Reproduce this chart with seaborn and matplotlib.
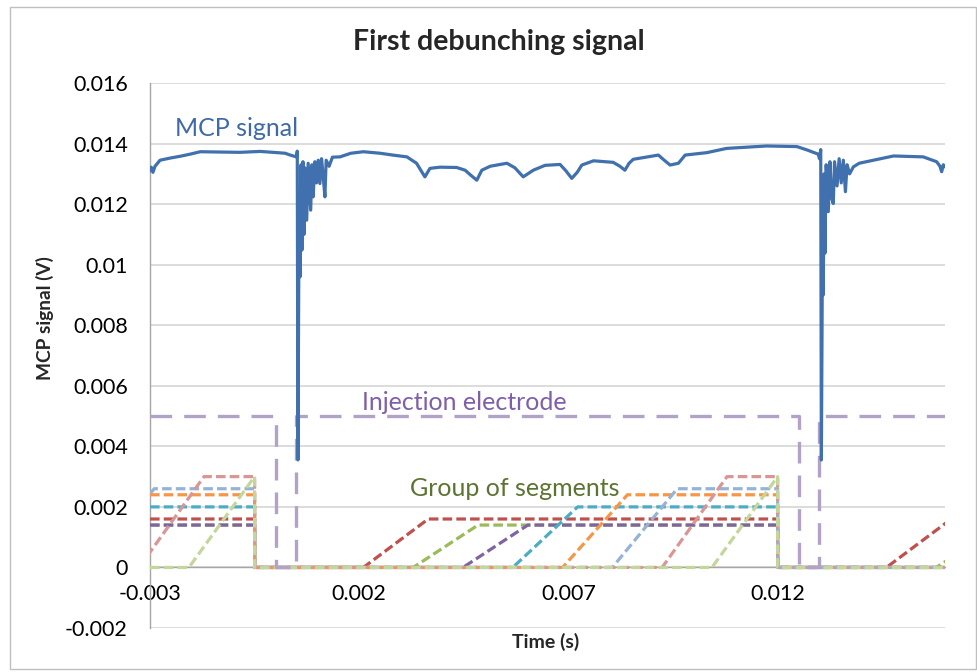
import numpy as np
import matplotlib
matplotlib.use("Agg")
import matplotlib.pyplot as plt
from matplotlib.patches import Rectangle
import seaborn as sns

# all traces in ms and mV, converted when drawn
mcp_t = [-3.00, -2.97, -2.93, -2.88, -2.76, -2.52, -2.28, -2.04, -1.80, -1.33,
         -0.85, -0.37, -0.06, 0.23, 0.35, 0.50, 0.52, 0.535, 0.55, 0.565,
         0.585, 0.61, 0.63, 0.655, 0.68, 0.70, 0.745, 0.78, 0.84, 0.87,
         0.90, 0.94, 0.98, 1.02, 1.06, 1.10, 1.14, 1.18, 1.21, 1.28,
         1.36, 1.54, 1.80, 2.10, 2.50, 2.80, 3.14, 3.37, 3.48, 3.57,
         3.69, 3.93, 4.33, 4.53, 4.67, 4.81, 4.93, 5.13, 5.53, 5.72,
         5.92, 6.16, 6.44, 6.80, 6.94, 7.08, 7.21, 7.32, 7.60, 8.07,
         8.23, 8.35, 8.45, 8.55, 9.15, 9.29, 9.43, 9.63, 9.79, 10.31,
         10.78, 11.74, 12.46, 12.70, 12.97, 13.00, 13.03, 13.045, 13.06, 13.075,
         13.09, 13.11, 13.13, 13.16, 13.21, 13.25, 13.29, 13.33, 13.36, 13.42,
         13.47, 13.52, 13.57, 13.62, 13.66, 13.72, 13.81, 13.95, 14.29, 14.77,
         15.48, 15.80, 15.88, 15.92, 15.96, 16.00]
mcp_v = [13.10, 13.22, 13.05, 13.25, 13.45, 13.52, 13.58, 13.65, 13.73, 13.72,
         13.71, 13.74, 13.71, 13.68, 13.62, 13.56, 13.75, 3.55, 8.00, 12.40,
         9.60, 13.30, 10.48, 13.40, 11.00, 13.20, 11.47, 13.35, 11.80, 13.30,
         12.24, 13.40, 12.70, 13.45, 12.68, 13.50, 12.90, 12.24, 13.45, 13.25,
         13.55, 13.56, 13.68, 13.73, 13.68, 13.62, 13.56, 13.35, 13.10, 12.90,
         13.18, 13.22, 13.21, 13.12, 12.95, 12.79, 13.12, 13.25, 13.35, 13.20,
         12.90, 13.12, 13.28, 13.31, 13.10, 12.85, 13.05, 13.29, 13.43, 13.38,
         13.25, 13.12, 13.35, 13.48, 13.62, 13.45, 13.29, 13.35, 13.62, 13.70,
         13.84, 13.92, 13.90, 13.79, 13.65, 13.50, 13.80, 3.55, 7.50, 12.00,
         9.00, 13.00, 10.38, 13.30, 11.75, 13.40, 12.20, 12.02, 13.40, 12.60,
         13.50, 12.70, 13.45, 12.41, 13.30, 13.00, 13.23, 13.35, 13.45, 13.59,
         13.56, 13.40, 13.25, 13.07, 13.30, 13.23]

inj_t = [-3.0, 0.0, 0.0, 0.5, 0.5, 12.5, 12.5, 13.0, 13.0, 16.0]
inj_v = [5.0, 5.0, 0.0, 0.0, 5.0, 5.0, 0.0, 0.0, 5.0, 5.0]

seg_red_t = [-3.0, -0.5, -0.5, 2.10, 3.65, 12.0, 12.0, 14.60, 16.15]
seg_red_v = [1.6, 1.6, 0.0, 0.0, 1.6, 1.6, 0.0, 0.0, 1.6]
seg_green_t = [-3.0, -0.5, -0.5, 3.29, 4.84, 12.0, 12.0, 15.79, 17.34]
seg_green_v = [1.4, 1.4, 0.0, 0.0, 1.4, 1.4, 0.0, 0.0, 1.4]
seg_purple_t = [-3.0, -0.5, -0.5, 4.48, 6.03, 12.0, 12.0, 16.0]
seg_purple_v = [1.4, 1.4, 0.0, 0.0, 1.4, 1.4, 0.0, 0.0]
seg_teal_t = [-3.0, -0.5, -0.5, 5.67, 7.22, 12.0, 12.0, 16.0]
seg_teal_v = [2.0, 2.0, 0.0, 0.0, 2.0, 2.0, 0.0, 0.0]
seg_orange_t = [-3.0, -0.5, -0.5, 6.86, 8.41, 12.0, 12.0, 16.0]
seg_orange_v = [2.4, 2.4, 0.0, 0.0, 2.4, 2.4, 0.0, 0.0]
seg_lblue_t = [-4.45, -2.90, -0.5, -0.5, 8.05, 9.60, 12.0, 12.0, 16.0]
seg_lblue_v = [0.0, 2.6, 2.6, 0.0, 0.0, 2.6, 2.6, 0.0, 0.0]
seg_pink_t = [-3.26, -1.71, -0.5, -0.5, 9.24, 10.79, 12.0, 12.0, 16.0]
seg_pink_v = [0.0, 3.0, 3.0, 0.0, 0.0, 3.0, 3.0, 0.0, 0.0]
seg_lgreen_t = [-3.0, -2.07, -0.5, -0.5, 10.43, 12.0, 12.0, 16.0]
seg_lgreen_v = [0.0, 0.0, 3.0, 0.0, 0.0, 3.0, 0.0, 0.0]

segments = [
    (seg_red_t, seg_red_v, "#C0504D"),
    (seg_green_t, seg_green_v, "#9BBB59"),
    (seg_purple_t, seg_purple_v, "#8064A2"),
    (seg_teal_t, seg_teal_v, "#4BACC6"),
    (seg_orange_t, seg_orange_v, "#F79646"),
    (seg_lblue_t, seg_lblue_v, "#95B3D7"),
    (seg_pink_t, seg_pink_v, "#D99694"),
    (seg_lgreen_t, seg_lgreen_v, "#C3D69B"),
]

x_ticks = [-0.003, 0.002, 0.007, 0.012]
x_labels = ["-0.003", "0.002", "0.007", "0.012"]
y_ticks = [-0.002, 0, 0.002, 0.004, 0.006, 0.008, 0.01, 0.012, 0.014, 0.016]
y_labels = ["-0.002", "0", "0.002", "0.004", "0.006", "0.008", "0.01",
            "0.012", "0.014", "0.016"]


def ms(vals):
    return np.array(vals) / 1000.0


sns.set_theme(style="white")
plt.rcParams['font.family'] = ['Lato', 'DejaVu Sans']

fig = plt.figure(figsize=(9.78, 6.72), dpi=100)
ax = fig.add_axes([150 / 978, 1 - 628 / 672, 795 / 978, 545 / 672])

for st, sv, col in segments:
    sns.lineplot(x=ms(st), y=ms(sv), sort=False, estimator=None, ax=ax,
                 color=col, lw=2.3, linestyle=(0, (3.0, 1.3)), zorder=3)

sns.lineplot(x=ms(inj_t), y=ms(inj_v), sort=False, estimator=None, ax=ax,
             color="#B3A2C7", lw=2.4, linestyle=(0, (6.5, 3.6)), zorder=4)

sns.lineplot(x=ms(mcp_t), y=ms(mcp_v), sort=False, estimator=None, ax=ax,
             color="#4070AD", lw=2.3, zorder=5)

ax.set_xlim(-0.003, 0.016)
ax.set_ylim(-0.002, 0.016)
ax.set_xticks(x_ticks)
ax.set_xticklabels(x_labels)
ax.set_yticks(y_ticks)
ax.set_yticklabels(y_labels)
ax.tick_params(axis='x', length=0, pad=12, labelsize=15.5, colors='#000000')
ax.tick_params(axis='y', length=0, pad=16, labelsize=15.5, colors='#000000')

ax.grid(axis='y', color='#D9D9D9', lw=1.3)
ax.grid(axis='x', visible=False)
for s in ['top', 'right']:
    ax.spines[s].set_visible(False)
ax.spines['left'].set_color('#A6A6A6')
ax.spines['bottom'].set_color('#A6A6A6')
ax.spines['bottom'].set_position(('data', 0))
ax.spines['left'].set_linewidth(1.0)
ax.spines['bottom'].set_linewidth(1.0)
ax.set_xlabel("")
ax.set_ylabel("")

ax.text(-0.0024, 0.01451, "MCP signal", color="#3F6AA6", fontsize=18,
        ha='left', va='center')
ax.text(0.00207, 0.00545, "Injection electrode", color="#7E5FA8", fontsize=18,
        ha='left', va='center')
ax.text(0.00321, 0.00261, "Group of segments", color="#5C7432", fontsize=18,
        ha='left', va='center')

fig.text(499 / 978, 1 - 42 / 672, "First debunching signal", fontsize=20.5,
         fontweight='bold', ha='center', va='center')
fig.text(45 / 978, 1 - 318 / 672, "MCP signal (V)", fontsize=13.8,
         fontweight='bold', rotation=90, ha='center', va='center')
fig.text(546 / 978, 1 - 642 / 672, "Time (s)", fontsize=14,
         fontweight='bold', ha='center', va='center')

fig.patches.append(Rectangle((10 / 978, 1 - 669 / 672), 966 / 978, 662 / 672,
                             transform=fig.transFigure, fill=False,
                             edgecolor='#BFBFBF', lw=1.0))

fig.savefig("out.png", dpi=100)
